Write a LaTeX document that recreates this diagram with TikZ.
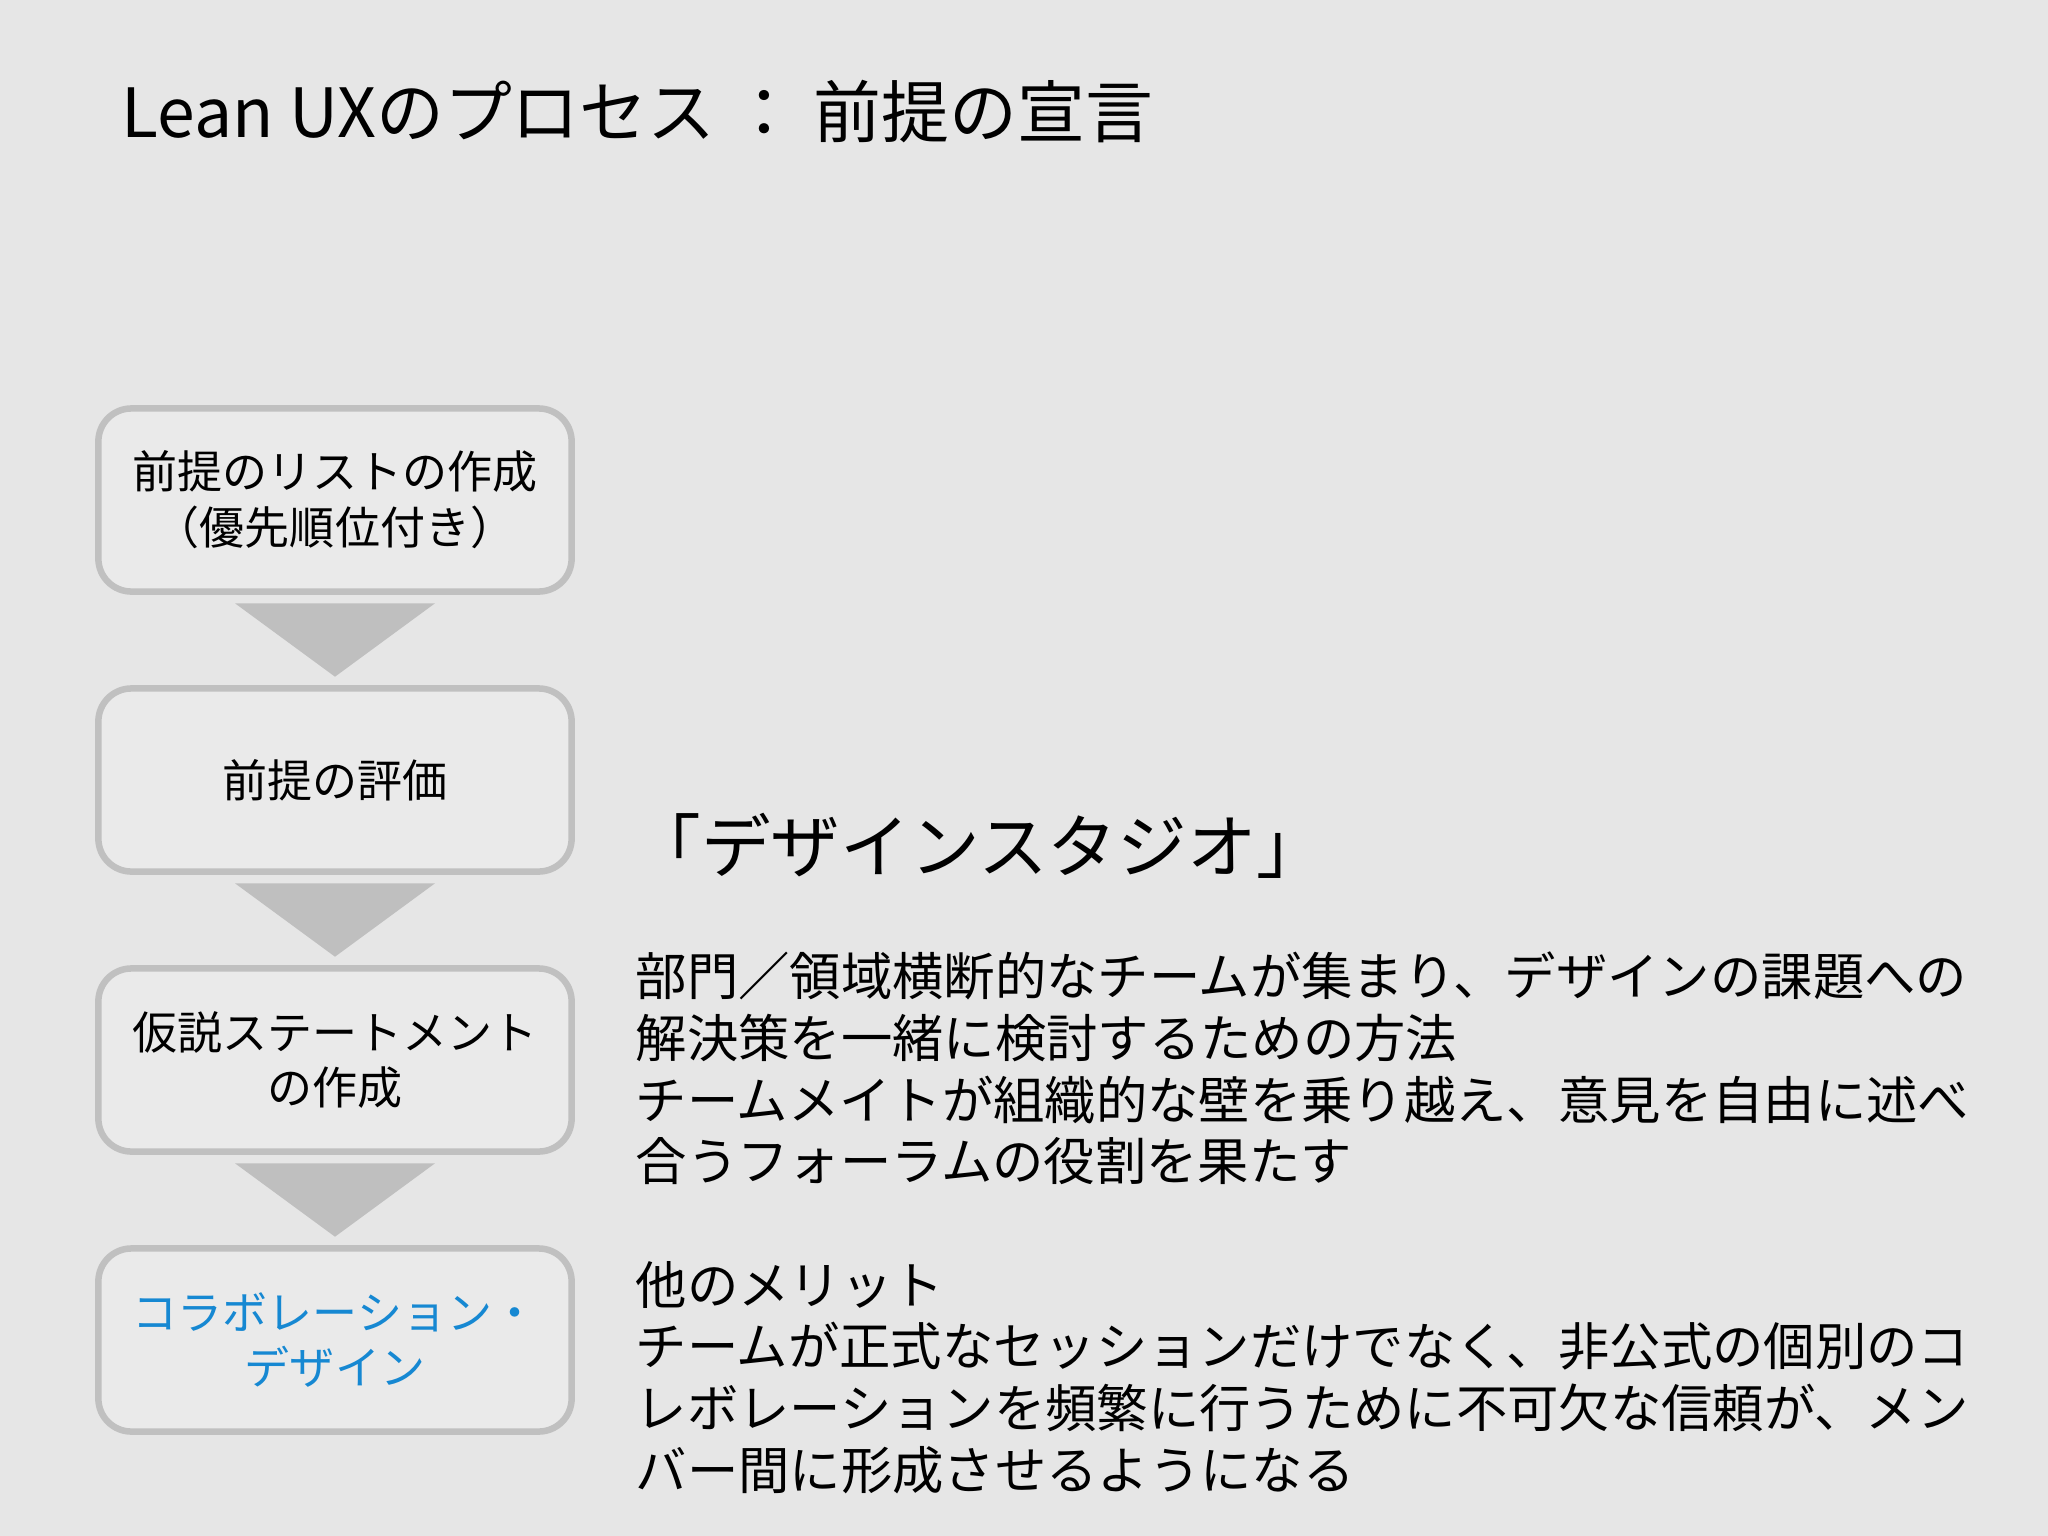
\documentclass[tikz,border=0pt]{standalone}
\usepackage{fontspec}
\setmainfont{Noto Sans CJK JP}
\usetikzlibrary{calc,positioning}
\definecolor{slidebg}{RGB}{230,230,230}
\definecolor{boxfill}{RGB}{234,234,234}
\definecolor{boxline}{RGB}{192,192,192}
\definecolor{arrowgray}{RGB}{191,191,191}
\definecolor{collabblue}{RGB}{22,136,210}
\tikzset{
  stepbox/.style={draw=boxline, fill=boxfill, line width=1.85pt, rounded corners=0.33cm,
    minimum width=4.73cm, minimum height=1.83cm, align=center, inner sep=0pt,
    font=\fontsize{12.8}{15.9}\selectfont},
  bodyline/.style={anchor=west, inner sep=0pt, text height=0.88em, text depth=0.12em,
    font=\fontsize{14.6}{17.5}\selectfont}
}
\begin{document}
\begin{tikzpicture}[x=0.01cm,y=-0.01cm]
        \fill[slidebg] (0,0) rectangle (2048,1536);
        \useasboundingbox (0,0) rectangle (2048,1536);

        % title
        \node [anchor=west, inner sep=0pt, text height=0.88em, text depth=0.12em,
          font=\fontsize{19.3}{23}\selectfont] (title) at (121,124) {Lean UXのプロセス ： 前提の宣言};

        % process steps
        \node [stepbox] (list) at (335,500) {前提のリストの作成\\（優先順位付き）};
        \node [stepbox] (rank) at (335,780) {前提の評価};
        \node [stepbox] (hypo) at (335,1060) {仮説ステートメント\\の作成};
        \node [stepbox, text=collabblue] (collab) at (335,1340) {コラボレーション・\\デザイン};

        \fill [arrowgray] ($(list.south)+(-100,8.5)$) -- ($(list.south)+(100,8.5)$) -- ($(rank.north)+(0,-8.5)$) -- cycle;
        \fill [arrowgray] ($(rank.south)+(-100,8.5)$) -- ($(rank.south)+(100,8.5)$) -- ($(hypo.north)+(0,-8.5)$) -- cycle;
        \fill [arrowgray] ($(hypo.south)+(-100,8.5)$) -- ($(hypo.south)+(100,8.5)$) -- ($(collab.north)+(0,-8.5)$) -- cycle;

        % design studio
        \node [inner sep=0pt, text height=0.88em, text depth=0.12em,
          font=\fontsize{19.8}{23}\selectfont] (studio) at (979,859) {「デザインスタジオ」};

        \node [bodyline] (p1) at (635,982) {部門／領域横断的なチームが集まり、デザインの課題への};
        \node [bodyline] (p2) at (635,1044) {解決策を一緒に検討するための方法};
        \node [bodyline] (p3) at (635,1106) {チームメイトが組織的な壁を乗り越え、意見を自由に述べ};
        \node [bodyline] (p4) at (635,1167) {合うフォーラムの役割を果たす};

        \node [bodyline] (q1) at (635,1291) {他のメリット};
        \node [bodyline] (q2) at (635,1352) {チームが正式なセッションだけでなく、非公式の個別のコ};
        \node [bodyline] (q3) at (635,1414) {レボレーションを頻繁に行うために不可欠な信頼が、メン};
        \node [bodyline] (q4) at (635,1476) {バー間に形成させるようになる};
      \end{tikzpicture}
\end{document}
